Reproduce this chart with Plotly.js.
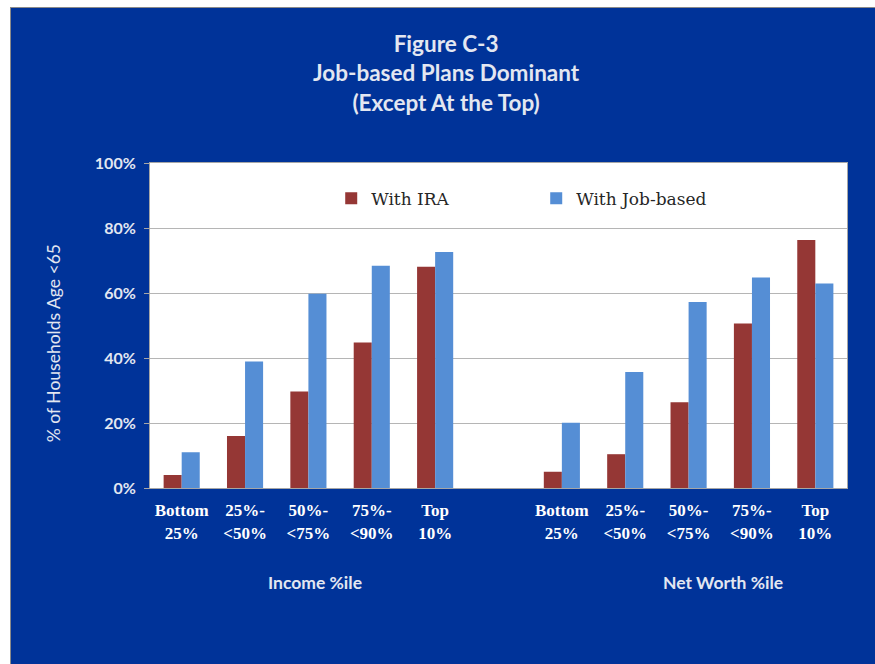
<!DOCTYPE html>
<html>
<head>
<meta charset="utf-8">
<script src="https://cdn.plot.ly/plotly-3.0.1.min.js"></script>
<style>
  html, body { margin: 0; padding: 0; background: #ffffff; width: 875px; height: 664px; overflow: hidden; }
  #chart { position: absolute; left: 10px; top: 7px; width: 865px; height: 657px;
           border-left: 1px solid #8a8a8a; border-top: 1px solid #8a8a8a; box-sizing: border-box; }
</style>
</head>
<body>
<div id="chart"></div>
<script>
// ---- data ----
const categories = ["Bottom<br>25%", "25%-<br><50%", "50%-<br><75%", "75%-<br><90%", "Top<br>10%"];
const groups = ["Income %ile", "Net Worth %ile"];
const incomeIRA = [4, 16, 29.7, 44.8, 68.1];
const incomeJob = [11, 38.9, 59.8, 68.4, 72.6];
const netWorthIRA = [5, 10.4, 26.4, 50.6, 76.3];
const netWorthJob = [20.1, 35.7, 57.2, 64.8, 62.9];
const seriesNames = ["With IRA", "With Job-based"];
const yTicks = [0, 20, 40, 60, 80, 100];

// ---- layout helpers: one empty slot between the two groups ----
const slotsPerGroup = categories.length + 1;
const xIncome = categories.map((c, i) => i);
const xNet = categories.map((c, i) => i + slotsPerGroup);
const allX = xIncome.concat(xNet);
const allText = categories.concat(categories);

const red = "#953735", blue = "#558ed5";

const traces = [
  { type: "bar", name: seriesNames[0], x: allX, y: incomeIRA.concat(netWorthIRA),
    marker: { color: red }, hoverinfo: "y" },
  { type: "bar", name: seriesNames[1], x: allX, y: incomeJob.concat(netWorthJob),
    marker: { color: blue }, hoverinfo: "y" }
];

const lightText = "#e3e7f1";
const layout = {
  width: 865, height: 657,
  margin: { l: 139, r: 29, t: 155, b: 177 },
  paper_bgcolor: "#003399",
  plot_bgcolor: "#ffffff",
  barmode: "group",
  bargap: 0.43,
  bargroupgap: 0,
  showlegend: true,
  title: {
    text: "Figure C-3<br>Job-based Plans Dominant<br>(Except At the Top)",
    font: { family: "Lato", size: 22.5, color: lightText, weight: "bold" },
    x: 0.503, xref: "container", xanchor: "center",
    y: 0.933, yref: "container", yanchor: "top"
  },
  legend: {
    orientation: "h",
    x: 0.26, xanchor: "left", y: 0.89, yanchor: "middle",
    bgcolor: "rgba(0,0,0,0)",
    font: { family: "DejaVu Serif", size: 17, color: "#262626" },
    entrywidth: 160, entrywidthmode: "pixels",
    traceorder: "normal"
  },
  xaxis: {
    type: "linear",
    range: [-0.5, allX[allX.length - 1] + 0.5],
    tickmode: "array", tickvals: allX, ticktext: allText,
    tickfont: { family: "Liberation Serif", size: 17, color: "#ffffff", weight: "bold" },
    ticks: "", showgrid: false, zeroline: false,
    showline: true, linecolor: "#a6a6a6", linewidth: 1, mirror: true,
    ticklabelstandoff: 7,
    fixedrange: true
  },
  yaxis: {
    range: [0, 100],
    tickmode: "array", tickvals: yTicks, ticktext: yTicks.map(v => v + "%"),
    tickfont: { family: "Lato", size: 16, color: lightText, weight: "bold" },
    ticks: "outside", ticklen: 5, tickcolor: "#a6a6a6",
    showgrid: true, gridcolor: "#b5b5b5", gridwidth: 1,
    zeroline: false,
    showline: true, linecolor: "#a6a6a6", linewidth: 1, mirror: true,
    ticklabelstandoff: 5,
    fixedrange: true
  },
  annotations: [
    { text: "% of Households Age <65", textangle: -90, showarrow: false,
      xref: "paper", yref: "paper", x: -0.138, y: 0.445, xanchor: "center", yanchor: "middle",
      font: { family: "Lato", size: 17.5, color: lightText } },
    { text: groups[0], showarrow: false, xref: "paper", yref: "paper",
      x: 0.237, y: -0.29, xanchor: "center", yanchor: "middle",
      font: { family: "Lato", size: 17.5, color: lightText, weight: "bold" } },
    { text: groups[1], showarrow: false, xref: "paper", yref: "paper",
      x: 0.822, y: -0.29, xanchor: "center", yanchor: "middle",
      font: { family: "Lato", size: 17.5, color: lightText, weight: "bold" } }
  ]
};

Plotly.newPlot("chart", traces, layout, { displayModeBar: false, staticPlot: true });
</script>
</body>
</html>
